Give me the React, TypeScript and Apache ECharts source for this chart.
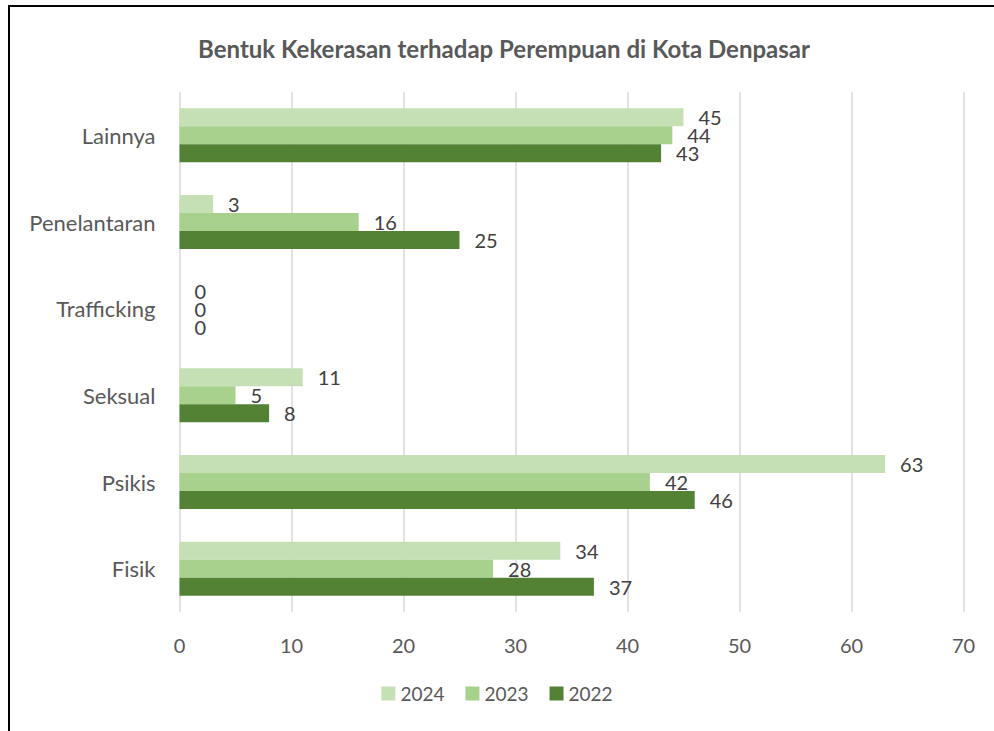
import React, { useEffect, useRef } from "react";
import * as echarts from "echarts";

const categories = ["Fisik", "Psikis", "Seksual", "Trafficking", "Penelantaran", "Lainnya"];
const seriesNames = ["2024", "2023", "2022"];
const values2024 = [34, 63, 11, 0, 3, 45];
const values2023 = [28, 42, 5, 0, 16, 44];
const values2022 = [37, 46, 8, 0, 25, 43];
const colors = ["#c5e0b4", "#a9d18e", "#548235"];
const xTicks = { min: 0, max: 70, interval: 10 };

const FONT = "Lato, 'Open Sans', sans-serif";

export default function App() {
  const ref = useRef<HTMLDivElement>(null);
  useEffect(() => {
    if (!ref.current) return;
    const chart = echarts.init(ref.current, undefined, { renderer: "svg" });
    const data = [values2024, values2023, values2022];
    chart.setOption({
      animation: false,
      backgroundColor: "#ffffff",
      textStyle: { fontFamily: FONT },
      title: {
        text: "Bentuk Kekerasan terhadap Perempuan di Kota Denpasar",
        left: 499,
        top: 31,
        textAlign: "center",
        textStyle: { fontFamily: FONT, fontSize: 24, fontWeight: "bold", color: "#595959" },
      },
      graphic: [
        {
          type: "rect",
          shape: { x: 9, y: 6, width: 1200, height: 900 },
          style: { fill: "none", stroke: "#000000", lineWidth: 2 },
          silent: true,
        },
      ],
      legend: {
        data: seriesNames,
        bottom: 23,
        left: "center",
        itemWidth: 14,
        itemHeight: 14,
        itemGap: 21,
        icon: "rect",
        textStyle: { fontFamily: FONT, fontSize: 19, color: "#595959" },
      },
      grid: { left: 179.5, right: 30.5, top: 92, bottom: 119, containLabel: false },
      xAxis: {
        type: "value",
        min: xTicks.min,
        max: xTicks.max,
        interval: xTicks.interval,
        axisLine: { show: false },
        axisTick: { show: false },
        axisLabel: { margin: 23, fontFamily: FONT, fontSize: 20, color: "#595959" },
        splitLine: { lineStyle: { color: "#d9d9d9", width: 1.5 } },
      },
      yAxis: {
        type: "category",
        data: categories,
        axisLine: { show: false },
        axisTick: { show: false },
        axisLabel: { margin: 24, fontFamily: FONT, fontSize: 22, color: "#595959" },
        splitLine: { show: false },
      },
      series: seriesNames.map((name, i) => ({
        name,
        type: "bar",
        data: data[i],
        barWidth: 18,
        barGap: "0%",
        itemStyle: { color: colors[i] },
        label: {
          show: true,
          position: "right",
          distance: 15,
          fontFamily: FONT,
          fontSize: 20,
          lineHeight: 17,
          color: "#404040",
        },
      })),
    });
    return () => chart.dispose();
  }, []);
  return (
    <div
      ref={ref}
      style={{ position: "absolute", left: 0, top: 0, width: 994, height: 731 }}
    />
  );
}
